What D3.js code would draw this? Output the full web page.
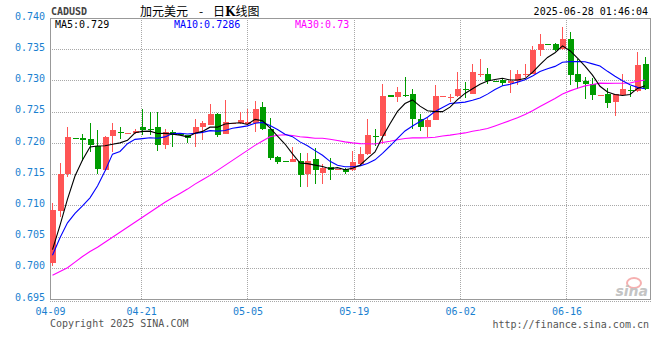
<!DOCTYPE html>
<html>
<head>
<meta charset="utf-8">
<script src="https://cdn.jsdelivr.net/npm/d3@7"></script>
<style>
  body { margin: 0; background: #fff; }
  svg { display: block; }
</style>
</head>
<body>
<svg id="chart" width="660" height="360"></svg>
<script>
// one bar per calendar day, 04-09 .. 06-27
var fmt = d3.timeFormat("%m-%d");
var days = d3.timeDay.range(new Date(2025, 3, 9), new Date(2025, 5, 28)).map(fmt);

var open = [0.7007,0.7091,0.7150,0.72085,0.7208,0.7207,0.7195,0.7156,0.7211,0.7218,
  0.72155,0.7216,0.7226,0.7223,0.7226,0.7197,0.7218,0.72135,0.7212,0.7216,
  0.7225,0.7229,0.7247,0.7215,0.72315,0.7232,0.7231,0.7232,0.7258,0.7223,
  0.7178,0.71705,0.7169,0.7171,0.7150,0.7174,0.7152,0.7161,0.71575,0.7158,
  0.7156,0.7166,0.7182,0.7211,0.7211,0.7277,0.7274,0.7276,0.7278,0.7239,
  0.7225,0.7237,0.72745,0.7272,0.7275,0.7287,0.7279,0.7310,0.7310,0.72995,
  0.7300,0.7296,0.7299,0.7310,0.7311,0.7348,0.73585,0.7358,0.7350,0.7366,
  0.7310,0.7299,0.7295,0.72755,0.7278,0.7266,0.7276,0.7285,0.7283,0.7327];
var high = [0.7103,0.7167,0.7225,0.72085,0.7214,0.7232,0.7220,0.7211,0.7232,0.7226,
  0.7216,0.7223,0.7255,0.7250,0.7250,0.7222,0.7221,0.72135,0.7212,0.7238,
  0.7235,0.7263,0.7248,0.7268,0.7232,0.7249,0.7254,0.7267,0.7265,0.7240,
  0.7179,0.71705,0.7194,0.7184,0.7184,0.7192,0.7166,0.7176,0.7158,0.7159,
  0.7187,0.7194,0.7239,0.7222,0.7295,0.7277,0.7290,0.7306,0.7287,0.7246,
  0.7240,0.7293,0.7275,0.7279,0.7314,0.7298,0.7327,0.7334,0.7320,0.72995,
  0.7302,0.7317,0.7316,0.7327,0.7355,0.7374,0.73585,0.7360,0.7386,0.7377,
  0.7335,0.7305,0.7304,0.7276,0.7288,0.7278,0.7311,0.7291,0.7346,0.7338];
var low = [0.7003,0.7081,0.7146,0.7208,0.7171,0.7185,0.7150,0.7155,0.7186,0.7207,
  0.72155,0.7214,0.7213,0.7212,0.7187,0.7190,0.7194,0.7213,0.7200,0.7193,
  0.7204,0.7228,0.7209,0.7214,0.72315,0.7231,0.7229,0.7218,0.7221,0.7172,
  0.7166,0.7170,0.7169,0.7129,0.7129,0.7134,0.7134,0.7141,0.71575,0.7150,
  0.7155,0.7163,0.7181,0.7195,0.7198,0.7274,0.7266,0.7274,0.7223,0.7219,
  0.7209,0.7236,0.72745,0.7266,0.7274,0.7272,0.7278,0.7305,0.7295,0.7299,
  0.7291,0.7280,0.7292,0.7306,0.7310,0.7339,0.7357,0.7347,0.7349,0.7292,
  0.7286,0.7270,0.7269,0.72755,0.7256,0.7243,0.7275,0.7274,0.7282,0.7285];
var close = [0.7092,0.7150,0.7209,0.7208,0.72045,0.7196,0.7158,0.7210,0.7220,0.7216,
  0.7216,0.7219,0.7221,0.7222,0.7197,0.7217,0.7213,0.7213,0.7208,0.7226,
  0.7232,0.7247,0.7213,0.7233,0.7232,0.7236,0.7233,0.7254,0.7222,0.7176,
  0.7169,0.7170,0.7175,0.7149,0.7171,0.7157,0.7159,0.7157,0.7158,0.7154,
  0.7169,0.7183,0.7212,0.7209,0.7275,0.7274,0.7282,0.7275,0.7238,0.7225,
  0.7237,0.7275,0.7275,0.7274,0.7286,0.7286,0.7313,0.7311,0.7299,0.7299,
  0.7296,0.7299,0.7310,0.7311,0.7348,0.7358,0.7357,0.7348,0.7366,0.7309,
  0.7298,0.7294,0.7276,0.7276,0.7264,0.7278,0.7286,0.7284,0.7324,0.7286];

// moving averages before the window is full (history not shown)
var ma5Lead = [0.7029,0.7068,0.7110,0.7147];
var ma10Lead = [0.7020,0.7048,0.7072,0.7087,0.7099,0.7112,0.7131,0.7155,0.7182];
var ma30Lead = [0.6988,0.6994,0.7000,0.7009,0.7018,0.7026,0.7033,0.7041,0.7049,0.7057,
  0.7065,0.7073,0.7081,0.7089,0.7097,0.7105,0.7112,0.7119,0.7126,0.7134,
  0.7141,0.7148,0.7156,0.7164,0.7172,0.7180,0.7188,0.7196,0.7203];

var yTicks = [0.695,0.700,0.705,0.710,0.715,0.720,0.725,0.730,0.735,0.740];
var xTicks = ["04-09","04-21","05-05","05-19","06-02","06-16"];
var legend = [["MA5:", "0.729"], ["MA10:", "0.7286"], ["MA30:", "0.73"]];

var UP = "#ff5555", DOWN = "#009c00";
var MONO = "'DejaVu Sans Mono', monospace";
var CJK = "'Noto Sans CJK SC', sans-serif";

var svg = d3.select("#chart");
var L = 50, R = 650, T = 18, B = 299;

var x = d3.scaleBand().domain(days).range([L, R])
  .paddingInner(0.2).paddingOuter(0.1).align(0);
var xt = d3.scalePoint().domain(days).range([L, R]);
var y = d3.scaleLinear().domain([0.695, 0.740]).range([B, T]);

function ma(n, lead) {
  return close.map(function(c, i) {
    return i < n - 1 ? lead[i] : d3.mean(close.slice(i - n + 1, i + 1));
  });
}

// grid
var grid = svg.append("g").attr("stroke", "#a8a8a8").attr("stroke-dasharray", "1,1")
  .attr("shape-rendering", "crispEdges");
grid.selectAll(".h").data(yTicks.slice(1, -1)).enter().append("line")
  .attr("x1", L).attr("x2", R).attr("y1", function(d) { return Math.round(y(d)) + 0.5; })
  .attr("y2", function(d) { return Math.round(y(d)) + 0.5; });
grid.selectAll(".v").data(xTicks.slice(1)).enter().append("line")
  .attr("y1", T).attr("y2", B)
  .attr("x1", function(d) { return Math.round(xt(d)) + 0.5; })
  .attr("x2", function(d) { return Math.round(xt(d)) + 0.5; });
grid.append("line").attr("x1", L).attr("x2", R + 2).attr("y1", B + 2.5).attr("y2", B + 2.5);

// frame
svg.append("path")
  .attr("d", "M" + (L + 0.5) + "," + (T + 0.5) + "H" + (R + 0.5) + "V" + (B + 0.5) + "H" + (L + 0.5) + "Z")
  .attr("fill", "none").attr("stroke", "#999").attr("shape-rendering", "crispEdges");

// candles
var idx = d3.range(days.length);
var cg = svg.append("g").attr("shape-rendering", "crispEdges");
cg.selectAll(".wick").data(idx).enter().append("line")
  .attr("x1", function(i) { return x(days[i]) + 2.5; })
  .attr("x2", function(i) { return x(days[i]) + 2.5; })
  .attr("y1", function(i) { return y(high[i]); })
  .attr("y2", function(i) { return y(low[i]); })
  .attr("stroke", function(i) { return close[i] >= open[i] ? UP : DOWN; });
cg.selectAll(".body").data(idx).enter().append("rect")
  .attr("x", function(i) { return x(days[i]); })
  .attr("width", x.bandwidth())
  .attr("y", function(i) { return y(Math.max(open[i], close[i])); })
  .attr("height", function(i) { return Math.max(1, Math.abs(y(open[i]) - y(close[i]))); })
  .attr("fill", function(i) { return close[i] >= open[i] ? UP : DOWN; });

// moving averages
var line = d3.line()
  .x(function(d, i) { return x(days[i]) + 2.5; })
  .y(function(d) { return y(d); });
[[ma(30, ma30Lead), "#ff00ff"], [ma(10, ma10Lead), "#0000ff"], [ma(5, ma5Lead), "#000"]]
  .forEach(function(s) {
    svg.append("path").datum(s[0]).attr("d", line)
      .attr("fill", "none").attr("stroke", s[1]).attr("stroke-width", 1.1);
  });

// axes labels
var yAxis = svg.append("g").attr("transform", "translate(" + L + ",-2)")
  .call(d3.axisLeft(y).tickValues(yTicks).tickSize(0).tickPadding(5).tickFormat(d3.format(".3f")));
yAxis.select(".domain").remove();
yAxis.selectAll("text").attr("fill", "#1a7fd0").style("font", "10px " + MONO);

var xAxis = svg.append("g").attr("transform", "translate(0," + (B + 7) + ")")
  .call(d3.axisBottom(xt).tickValues(xTicks).tickSize(0).tickPadding(2));
xAxis.select(".domain").remove();
xAxis.selectAll("text").attr("fill", "#1a7fd0").style("font", "10px " + MONO);

// legend
var lx = [55, 174, 295], lc = ["#000", "#0000ff", "#ff00ff"];
legend.forEach(function(d, i) {
  svg.append("text").attr("x", lx[i]).attr("y", 28).attr("fill", lc[i])
    .style("font", "10px " + MONO).text(d[0] + d[1]);
});

// header / footer
svg.append("text").attr("x", 51).attr("y", 15).attr("fill", "#444")
  .style("font", "bold 10px " + MONO).text("CADUSD");
var title = svg.append("text").attr("y", 16).attr("fill", "#000").style("font", "12px " + CJK);
title.append("tspan").attr("x", 140).text("加元美元");
title.append("tspan").attr("x", 199).text("-");
title.append("tspan").attr("x", 213).text("日");
title.append("tspan").style("font-weight", "bold").style("font-family", "'DejaVu Serif', serif").text("K");
title.append("tspan").text("线图");
svg.append("text").attr("x", 648).attr("y", 15).attr("text-anchor", "end").attr("fill", "#000")
  .style("font", "10px " + MONO).text("2025-06-28 01:46:04");
svg.append("text").attr("x", 50).attr("y", 327).attr("fill", "#555")
  .style("font", "10px " + MONO).text("Copyright 2025 SINA.COM");
svg.append("text").attr("x", 649).attr("y", 328).attr("text-anchor", "end").attr("fill", "#555")
  .style("font", "10px " + MONO).text("http://finance.sina.com.cn");

// watermark
svg.append("ellipse").attr("cx", 634).attr("cy", 283).attr("rx", 7).attr("ry", 5)
  .attr("fill", "none").attr("stroke", "#f6b0b0").attr("stroke-width", 2);
svg.append("text").attr("x", 648).attr("y", 296).attr("text-anchor", "end").attr("fill", "#c4c4c4")
  .style("font", "italic bold 14px 'DejaVu Sans', sans-serif").text("sina");
</script>
</body>
</html>
